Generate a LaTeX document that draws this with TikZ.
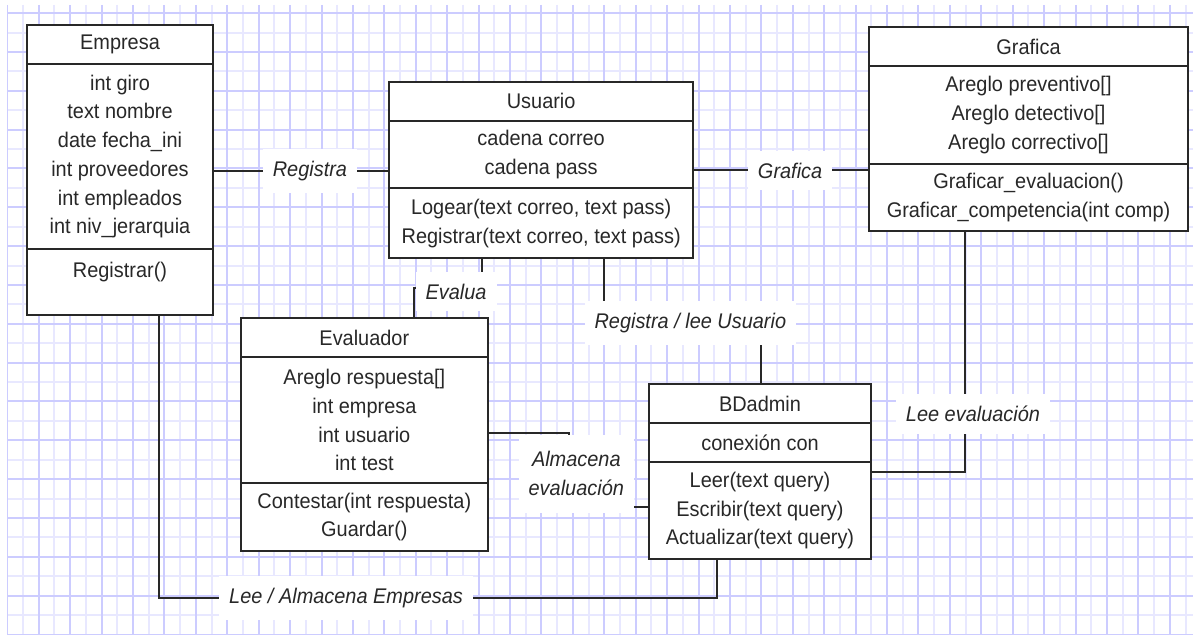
\documentclass[tikz,border=0pt]{standalone}
\usepackage{fontspec}
\setmainfont{Liberation Sans}[FakeStretch=0.94]
\usetikzlibrary{positioning}

\definecolor{gridlight}{RGB}{232,232,255}
\definecolor{griddark}{RGB}{204,204,255}
\definecolor{ink}{RGB}{40,40,40}

\newcommand{\umlfont}{\fontsize{10.6pt}{14.35pt}\selectfont}

\tikzset{
  clsname/.style={draw=ink, line width=1pt, fill=white, outer sep=0pt, inner sep=0pt,
    minimum height=19.5pt, font=\umlfont, text=ink},
  clspart/.style={clsname, align=center},
  conn/.style={draw=ink, line width=1pt},
  lbl/.style={fill=white, font=\umlfont\itshape, text=ink, inner xsep=5pt, inner ysep=6pt, align=center},
}

\begin{document}
\begin{tikzpicture}[x=0.5pt, y=-0.5pt]
    % Paper and grid
    \fill[white] (0,0) rectangle (1193,635);
    \useasboundingbox (0,0) rectangle (1193,635);
    \begin{scope}
      \clip (7,5) rectangle (1193,635);
      \foreach \i in {1,3,...,75} \draw[gridlight, line width=1pt] ({7.3+\i*15.71},5) -- ++(0,630);
      \foreach \j in {-1,1,...,31} \draw[gridlight, line width=1pt] (7,{13.1+\j*19.42}) -- ++(1186,0);
      \foreach \i in {0,2,...,76} \draw[griddark, line width=1pt] ({7.3+\i*15.71},5) -- ++(0,630);
      \foreach \j in {0,2,...,32} \draw[griddark, line width=1pt] (7,{13.1+\j*19.42}) -- ++(1186,0);
    \end{scope}

    % Empresa
    \node[clsname, minimum width=93.3pt, anchor=north west] (emp) at (26.7,25) {Empresa};
    \node[clspart, minimum width=93.3pt, minimum height=92.5pt, below=0pt of emp] (empA)
      {int giro\\text nombre\\date fecha\_ini\\int proveedores\\int empleados\\int niv\_jerarquia};
    \node[clspart, minimum width=93.3pt, text height=14.45pt, text depth=18.4pt, below=0pt of empA] (empM) {Registrar()};

    % Usuario
    \node[clsname, minimum width=152.15pt, anchor=north west] (usr) at (389,81.7) {Usuario};
    \node[clspart, minimum width=152.15pt, minimum height=33.8pt, below=0pt of usr] (usrA)
      {cadena correo\\cadena pass};
    \node[clspart, minimum width=152.15pt, minimum height=35pt, below=0pt of usrA] (usrM)
      {Logear(text correo, text pass)\\Registrar(text correo, text pass)};

    % Grafica
    \node[clsname, minimum width=159.2pt, anchor=north west] (gra) at (869.3,27.3) {Grafica};
    \node[clspart, minimum width=159.2pt, minimum height=48.8pt, below=0pt of gra] (graA)
      {Areglo preventivo[]\\Areglo detectivo[]\\Areglo correctivo[]};
    \node[clspart, minimum width=159.2pt, minimum height=33.7pt, below=0pt of graA] (graM)
      {Graficar\_evaluacion()\\Graficar\_competencia(int comp)};

    % Evaluador
    \node[clsname, minimum width=123.35pt, anchor=north west] (eva) at (241,318.3) {Evaluador};
    \node[clspart, minimum width=123.35pt, minimum height=63pt, below=0pt of eva] (evaA)
      {Areglo respuesta[]\\int empresa\\int usuario\\int test};
    \node[clspart, minimum width=123.35pt, minimum height=33.7pt, below=0pt of evaA] (evaM)
      {Contestar(int respuesta)\\Guardar()};

    % BDadmin
    \node[clsname, minimum width=110.7pt, anchor=north west] (bd) at (649.3,384.3) {BDadmin};
    \node[clspart, minimum width=110.7pt, below=0pt of bd] (bdA) {conexión con};
    \node[clspart, minimum width=110.7pt, minimum height=48.5pt, below=0pt of bdA] (bdM)
      {Leer(text query)\\Escribir(text query)\\Actualizar(text query)};

    % Bend points of the connectors
    \coordinate (regY) at (0,171);
    \coordinate (graY) at (0,170.5);
    \coordinate (ev1) at (481.7,287.7);
    \coordinate (ev2) at (414.3,287.7);
    \coordinate (ru1) at (604,323);
    \coordinate (ru2) at (761,323);
    \coordinate (le) at (965,471.7);
    \coordinate (al1) at (569.3,433.3);
    \coordinate (al2) at (569.3,506.7);
    \coordinate (lae1) at (158.5,597.7);
    \coordinate (lae2) at (716.7,597.7);

    % Associations
    \draw[conn] (empA.east |- regY) -- node[lbl, pos=.55] {Registra} (usrA.west |- regY);
    \draw[conn] (usrA.east |- graY) -- node[lbl, pos=.55] {Grafica} (graM.west |- graY);
    \draw[conn] (usrM.south -| ev1) -- (ev1) -- node[lbl, pos=.38, yshift=-2pt] {Evalua} (ev2) -- (eva.north -| ev2);
    \draw[conn] (usrM.south -| ru1) -- (ru1) -- node[lbl, pos=.55] {Registra / lee Usuario} (ru2) -- (bd.north -| ru2);
    \draw[conn] (graM.south -| le) -- node[lbl, pos=.76, xshift=4pt] {Lee evaluación} (le) -- (bdM.east |- le);
    \draw[conn] (evaA.east |- al1) -- (al1) -- node[lbl, pos=.55, xshift=3.5pt, inner ysep=8.5pt] {Almacena\\evaluación} (al2) -- (bdM.west |- al2);
    \draw[conn] (empM.south -| lae1) -- (lae1) -- node[lbl, pos=.336] {Lee / Almacena Empresas} (lae2) -- (bdM.south -| lae2);
\end{tikzpicture}
\end{document}
